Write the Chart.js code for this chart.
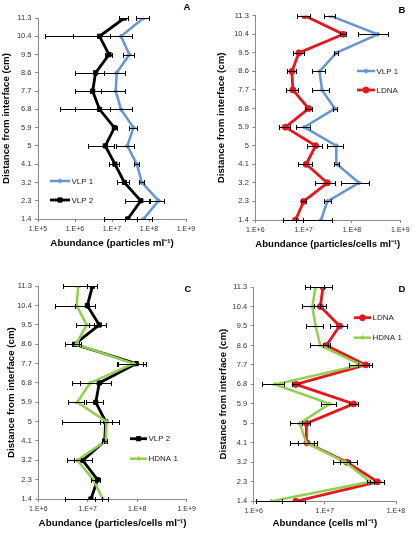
<!DOCTYPE html>
<html><head><meta charset="utf-8">
<script src="https://cdn.jsdelivr.net/npm/chart.js@4.4.1/dist/chart.umd.min.js"></script>
<style>
html,body{margin:0;padding:0;background:#fff;}
#wrap{position:relative;width:417px;height:534px;overflow:hidden;background:#fff;}
canvas{position:absolute;}
</style></head><body><div id="wrap">
<canvas id="cA" width="207" height="267" style="left:0;top:0"></canvas>
<canvas id="cB" width="210" height="267" style="left:207px;top:0"></canvas>
<canvas id="cC" width="207" height="267" style="left:0;top:267px"></canvas>
<canvas id="cD" width="210" height="267" style="left:207px;top:267px"></canvas>
</div>
<script>
// ---------- data ----------
const depths = [1.4, 2.3, 3.2, 4.1, 5, 5.9, 6.8, 7.7, 8.6, 9.5, 10.4, 11.3];
const depthLabels = ['1.4','2.3','3.2','4.1','5','5.9','6.8','7.7','8.6','9.5','10.4','11.3'];

const decadesA = [1e5, 1e6, 1e7, 1e8, 1e9];
const tickLabelsA = ['1.E+5','1.E+6','1.E+7','1.E+8','1.E+9'];
const decadesB = [1e6, 1e7, 1e8, 1e9];
const tickLabelsB = ['1.E+6','1.E+7','1.E+8','1.E+9'];
const decadesC = [1e6, 1e7, 1e8, 1e9];
const tickLabelsC = ['1.E+6','1.E+7','1.E+8','1.E+9'];
const decadesD = [1e6, 1e7, 1e8];
const tickLabelsD = ['1.E+6','1.E+7','1.E+8'];

// Panel A
const vlp1A    = [7.1e7, 1.81e8, 6.4e7, 4.7e7, 2.6e7, 3.8e7, 1.75e7, 1.26e7, 1.34e7, 2.95e7, 1.75e7, 7.1e7];
const vlp1AErr = [4.8e7, 7.6e7, 1.0e7, 8e6, 1.35e7, 9e6, 1.65e7, 1.0e7, 9.6e6, 1.0e7, 1.66e7, 2.6e7];
const vlp2A    = [2.66e7, 6.0e7, 2.16e7, 1.2e7, 6.6e6, 1.16e7, 4.6e6, 3.0e6, 3.6e6, 8.3e6, 4.6e6, 2.16e7];
const vlp2AErr = [2.05e7, 3.7e7, 8e6, 3.5e6, 4.4e6, 1.8e6, 4.2e6, 2.0e6, 2.6e6, 1.7e6, 4.45e6, 6e6];
// Panel B
const vlp1B    = [2.29e7, 3.1e7, 1.4e8, 4.9e7, 4.74e7, 1.03e7, 4.4e7, 2.4e7, 2.14e7, 4.74e7, 3.42e8, 3.5e7];
const vlp1BErr = [1.6e7, 5e6, 8e7, 6e6, 1.7e7, 3.4e6, 4e6, 9e6, 6.6e6, 4e6, 2.1e8, 9e6];
const ldnaB    = [6.8e6, 1.0e7, 3.1e7, 1.13e7, 1.77e7, 4.2e6, 1.27e7, 6.0e6, 5.7e6, 8.0e6, 6.6e7, 1.05e7];
const ldnaBErr = [3.1e6, 1e6, 1.4e7, 3.5e6, 6e6, 1.1e6, 2e6, 1.6e6, 1.2e6, 2e6, 1e7, 3.1e6];
// Panel C
const vlp2C    = [1.16e7, 1.58e7, 7.9e6, 2.2e7, 2.3e7, 1.45e7, 1.71e7, 9.5e7, 5.4e6, 1.71e7, 9.8e6, 1.24e7];
const vlp2CErr = [8.1e6, 1.5e6, 4.1e6, 3e6, 2e7, 5.5e6, 1.24e7, 5.5e7, 1.9e6, 6.3e6, 4.2e6, 2.7e6];
const hdnaC    = [2.0e7, 1.3e7, 6.15e6, 2.3e7, 2.4e7, 6.15e6, 1.11e7, 8.4e7, 5.8e6, 9.5e6, 5.96e6, 6.4e6];
const hdnaCErr = [6e6, 1.2e6, 1e6, 2e6, 6.3e6, 2.1e6, 4.1e6, 4.5e7, 1e6, 3.7e6, 3.8e6, 3.2e6];
// Panel D
const ldnaD    = [3.9e6, 5.5e7, 2.05e7, 5.6e6, 5.5e6, 2.54e7, 3.9e6, 3.75e7, 1.05e7, 1.61e7, 8.65e6, 9.4e6];
const ldnaDErr = [1.4e6, 1.2e7, 7.5e6, 1.4e6, 7.5e5, 3.5e6, 5e5, 8.5e6, 1.2e6, 4.4e6, 1.7e6, 3.2e6];
const hdnaD    = [1.77e6, 4.35e7, 1.95e7, 5.5e6, 4.43e6, 1.17e7, 2.0e6, 3.2e7, 8.65e6, 7.4e6, 6.67e6, 7.4e6];
const hdnaDErr = [7e5, 5e6, 3e6, 2.3e6, 1.2e6, 2.8e6, 7e5, 1e7, 2.4e6, 1.9e6, 1.9e6, 2.2e6];

// ---------- styles ----------
const FONT = "'Liberation Sans', Arial, sans-serif";
const BLUE = '#6396d2', BLACK = '#000000', RED = '#e8161c', GREEN = '#92cf50';
const styles = {
  'VLP 1': {color: BLUE, pointStyle: 'rectRot', radius: 2.2, width: 2.5},
  'VLP 2': {color: BLACK, pointStyle: 'rect', radius: 3, width: 2.8},
  'LDNA': {color: RED, pointStyle: 'circle', radius: 3, width: 2.8},
  'HDNA 1': {color: GREEN, pointStyle: 'triangle', radius: 2.3, width: 2.5}
};

Chart.defaults.font.family = FONT;
Chart.defaults.animation = false;

const errorBars = {
  id: 'errorBars',
  afterDatasetsDraw(chart) {
    const {ctx, chartArea} = chart;
    const xs = chart.scales.x, ys = chart.scales.y;
    ctx.save();
    ctx.strokeStyle = '#000';
    ctx.lineWidth = 1;
    chart.data.datasets.forEach(ds => {
      if (!ds.errors) return;
      ds.data.forEach((p, i) => {
        const e = ds.errors[i];
        const py = Math.round(ys.getPixelForValue(p.y)) + 0.5;
        const lo = p.x - e, hi = p.x + e;
        let lx, lcap = true;
        if (lo <= xs.min) { lx = chartArea.left; lcap = false; }
        else lx = Math.round(xs.getPixelForValue(lo)) + 0.5;
        const rx = Math.round(xs.getPixelForValue(hi)) + 0.5;
        ctx.beginPath();
        ctx.moveTo(lx, py); ctx.lineTo(rx, py);
        if (lcap) { ctx.moveTo(lx, py - 2.5); ctx.lineTo(lx, py + 2.5); }
        ctx.moveTo(rx, py - 2.5); ctx.lineTo(rx, py + 2.5);
        ctx.stroke();
      });
    });
    ctx.restore();
  }
};

const customLegend = {
  id: 'customLegend',
  afterDraw(chart, args, opts) {
    const ctx = chart.ctx;
    ctx.save();
    chart.data.datasets.forEach((ds, i) => {
      const st = styles[ds.label];
      const y = opts.y + i * opts.dy;
      ctx.strokeStyle = st.color;
      ctx.lineWidth = st.width;
      ctx.beginPath(); ctx.moveTo(opts.x, y); ctx.lineTo(opts.x + opts.len, y); ctx.stroke();
      ctx.fillStyle = st.color;
      ctx.strokeStyle = st.color;
      ctx.lineWidth = 1;
      Chart.helpers.drawPoint(ctx, {pointStyle: st.pointStyle, radius: st.radius, rotation: 0, borderWidth: 1}, opts.x + opts.len / 2, y);
      ctx.fillStyle = '#222';
      ctx.font = '8px ' + FONT;
      ctx.textBaseline = 'middle';
      ctx.textAlign = 'left';
      ctx.fillText(ds.label, opts.x + opts.len + 1.5, y + 0.5);
    });
    ctx.restore();
  }
};

const panelLabel = {
  id: 'panelLabel',
  afterDraw(chart, args, opts) {
    const ctx = chart.ctx;
    ctx.save();
    ctx.fillStyle = '#000';
    ctx.font = 'bold 9.5px ' + FONT;
    ctx.textAlign = 'center';
    ctx.textBaseline = 'middle';
    ctx.fillText(opts.text, opts.x, opts.y);
    ctx.restore();
  }
};

function makeDataset(label, vals, errs, order) {
  const st = styles[label];
  return {
    label,
    order,
    data: depths.map((d, i) => ({x: vals[i], y: d})),
    errors: errs,
    borderColor: st.color,
    backgroundColor: st.color,
    borderWidth: st.width,
    pointStyle: st.pointStyle,
    pointRadius: st.radius,
    pointBackgroundColor: st.color,
    pointBorderColor: st.color,
    pointBorderWidth: 1,
    tension: 0,
    fill: false
  };
}

function makePanel(id, cfg) {
  const gridOpts = {display: true, drawOnChartArea: false, drawTicks: true, tickLength: 3, color: '#8a8a8a'};
  const borderOpts = {display: true, color: '#8a8a8a', width: 1};
  new Chart(document.getElementById(id), {
    type: 'line',
    data: {datasets: cfg.datasets},
    options: {
      responsive: false,
      animation: false,
      events: [],
      layout: {padding: {left: 0, top: cfg.top, right: cfg.right, bottom: 0}},
      plugins: {
        legend: {display: false},
        tooltip: {enabled: false},
        customLegend: cfg.legend,
        panelLabel: cfg.label
      },
      scales: {
        x: {
          type: 'logarithmic',
          min: cfg.decades[0],
          max: cfg.decades[cfg.decades.length - 1],
          afterBuildTicks: s => { s.ticks = cfg.decades.map(v => ({value: v, major: true})); },
          ticks: {callback: (v, i) => cfg.tickLabels[i], font: {size: 7}, color: '#333', padding: 3, autoSkip: false, maxRotation: 0, minRotation: 0},
          grid: gridOpts,
          border: borderOpts,
          title: {display: true, text: cfg.xTitle, color: '#000', font: {size: 9.8, weight: 'bold'}, padding: {top: 0, bottom: cfg.xTitlePad}},
          afterFit: s => { s.height = cfg.xH; s.paddingLeft = 0; s.paddingRight = 0; }
        },
        y: {
          type: 'linear',
          min: 1.4,
          max: 11.3,
          afterBuildTicks: s => { s.ticks = depths.map(v => ({value: v})); },
          ticks: {callback: (v, i) => depthLabels[i], font: {size: 7.5}, color: '#333', padding: 3.5, autoSkip: false},
          grid: gridOpts,
          border: borderOpts,
          title: {display: true, text: 'Distance from interface (cm)', color: '#000', font: {size: 9.7, weight: 'bold'}, padding: {top: cfg.yTitlePad, bottom: 0}},
          afterFit: s => { s.width = cfg.yW; s.paddingTop = 0; s.paddingBottom = 0; }
        }
      }
    },
    plugins: [errorBars, customLegend, panelLabel]
  });
}

makePanel('cA', {
  datasets: [makeDataset('VLP 1', vlp1A, vlp1AErr, 1), makeDataset('VLP 2', vlp2A, vlp2AErr, 0)],
  decades: decadesA, tickLabels: tickLabelsA,
  xTitle: 'Abundance (particles ml\u207B\u00B9)',
  top: 18, right: 21, yW: 38, xH: 48, yTitlePad: 0.2, xTitlePad: 18.1,
  legend: {x: 50, y: 181, dy: 19, len: 20},
  label: {text: 'A', x: 187, y: 7}
});
makePanel('cB', {
  datasets: [makeDataset('VLP 1', vlp1B, vlp1BErr, 1), makeDataset('LDNA', ldnaB, ldnaBErr, 0)],
  decades: decadesB, tickLabels: tickLabelsB,
  xTitle: 'Abundance (particles/cells ml\u207B\u00B9)',
  top: 15.7, right: 16.7, yW: 48.3, xH: 47, yTitlePad: 9, xTitlePad: 17.1,
  legend: {x: 150, y: 71, dy: 19, len: 18},
  label: {text: 'B', x: 195, y: 10}
});
makePanel('cC', {
  datasets: [makeDataset('VLP 2', vlp2C, vlp2CErr, 1), makeDataset('HDNA 1', hdnaC, hdnaCErr, 0)],
  decades: decadesC, tickLabels: tickLabelsC,
  xTitle: 'Abundance (particles/cells ml\u207B\u00B9)',
  top: 19.3, right: 20.3, yW: 38.3, xH: 35, yTitlePad: 5.8, xTitlePad: 4.4,
  legend: {x: 130, y: 171.7, dy: 20, len: 17},
  label: {text: 'C', x: 188, y: 22}
});
makePanel('cD', {
  datasets: [makeDataset('LDNA', ldnaD, ldnaDErr, 1), makeDataset('HDNA 1', hdnaD, hdnaDErr, 0)],
  decades: decadesD, tickLabels: tickLabelsD,
  xTitle: 'Abundance (cells ml\u207B\u00B9)',
  top: 20, right: 21, yW: 46.7, xH: 32.7, yTitlePad: 10.8, xTitlePad: 4.4,
  legend: {x: 147, y: 50.7, dy: 20, len: 17},
  label: {text: 'D', x: 195, y: 22}
});
</script></body></html>
